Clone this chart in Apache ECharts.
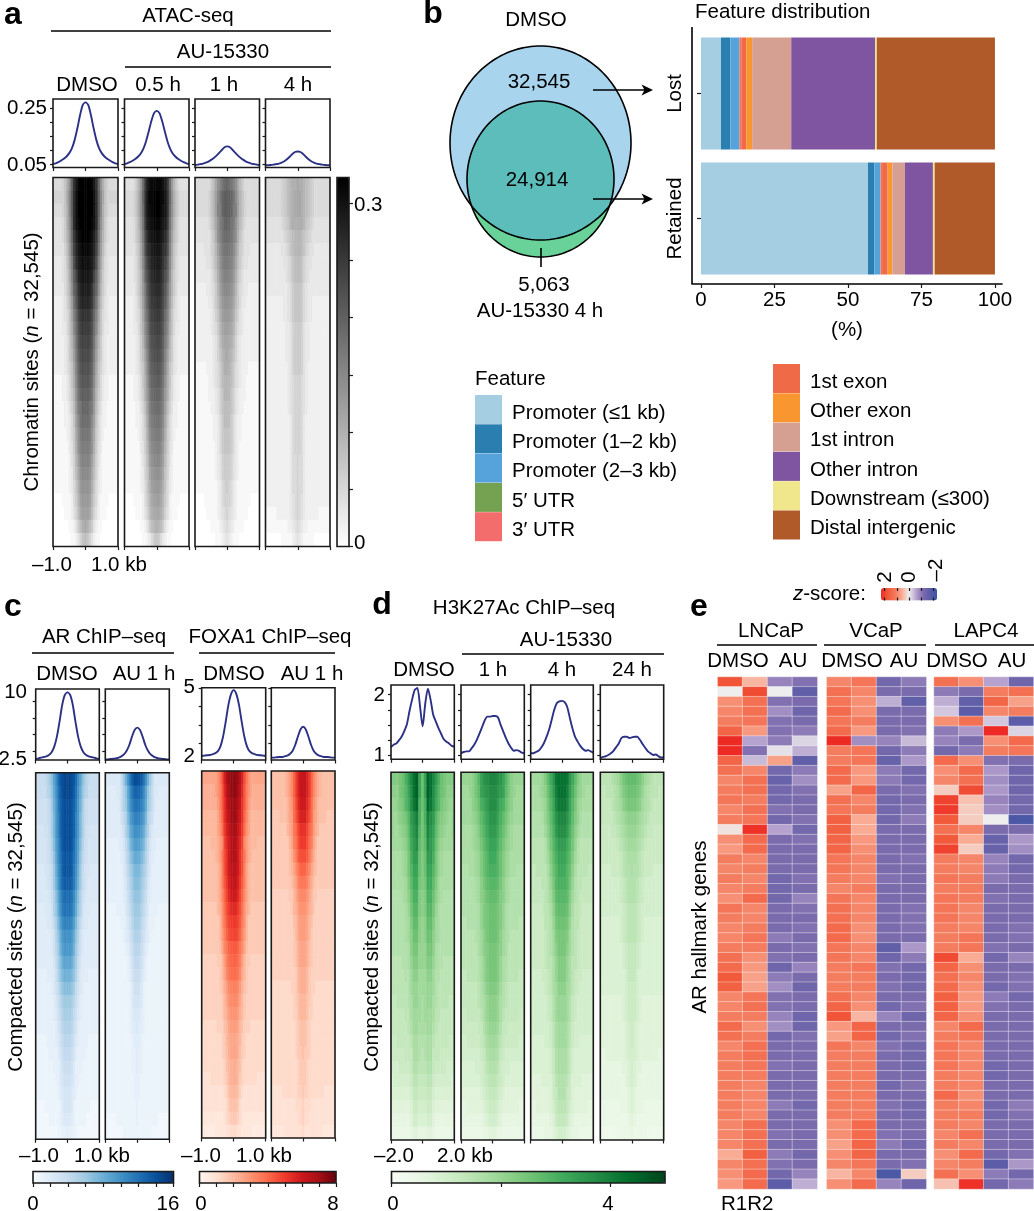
<!DOCTYPE html>
<html><head><meta charset="utf-8">
<style>html,body{margin:0;padding:0;background:#fff}#c{width:1034px;height:1211px}</style>
<script src="https://cdn.jsdelivr.net/npm/echarts@6/dist/echarts.min.js"></script>
</head><body><div id="c"></div>
<script>
/* ===== DATA ===== */
// Tornado heatmaps, top row first. Each row lists the centre cell, then the cells going outward
// (both flanks read alike; the far flank continues at the last level); a base-36 digit = level 0-35 of the panel's colour bar.
const atacDmso=["zzzywslfb865","zzzzxtmgc866","zzzzxtmgb865","zzzyxtlfb754","zzyxvrkea754","yyxwuqjd9644","xxwvtohc8543","wwvuqmgb7543","vvusolfa7533","uutrnjd96432","ssrplhc85432","rrqokgb85332","qqpnjea74322","ppomid974322","oonlhc864322","nnmkgb853221","mmljfa753221","lljie9642211","kkjgd8532211","jjifc7532111","iihfb7431111","hhgda6421111","ggfc96321111","ffeb85321111","eeda75211110","ddc964211100","cb9742110000","986421100000"];
const atac05h=["yyyxvrkea754","zzyywslfb865","zzyxwskfb865","yyxwvrjea754","xxwvtpid9754","wwvtsohc8644","vvusqmgb8543","uutrolfa7543","ttsqnjea7533","ssrpmid96432","rrqokhc85432","qqpnjgb85332","ppomifa74322","oonlhd974322","nnmkgc864322","mmljfb853221","llkieb753221","kkjhd9642211","jjigc8532211","iihfb7532111","hhgea7431111","ggfd96421111","ffec86321111","eedb85321111","ddca75211110","ccb964211100","ba9742110000","875321100000"];
const atac1h=["lkjhfc975555","mmljgda86555","mmlihda86555","lljifc975444","kkjhfb864444","jjigda764443","iihfc9754433","hhgeb8643333","ggfda7543322","ffec97533222","eedb86432222","ddca75432222","ccb964322222","cba864322222","bb9754322211","aa9754322111","aa8643222111","998643221111","997532211111","887532211111","887532111111","776432111111","776432111111","765321111111","665321111110","654321111100","543211110000","432111000000"];
const atac4h=["cbba98765555","ccba98765555","ccba98765555","bbba87654444","aa9876544444","aa9865443333","998654433333","998654333333","887543333333","887543322222","887543322222","776433222222","776433222222","776433222222","776432222222","665432222222","665432222222","665432222222","665322222222","665322222222","665322222222","655322222222","655322222222","655322222222","654322222222","654322222211","543221111111","432111110000"];
const arDmso=["wwvurnjfca98","wwvtqmieba88","vvusplhd9877","vvusolgc9877","vvusolgc9776","vvurnkfb8766","uutqnjea8766","uutpmid97665","ttsplhd97655","rrqnjfb86555","qqpmieb75554","oonkgc965544","mmlieb754444","llkhda754444","jjifc9644444","hhgeb8544433","ffec97543333","ddca86433333","ccb975433333","bba864333333","aa9754333322","998643333222","887533322222","776533222222","665432222222","665322222221","554322222111","433221111111"];
const arAu=["vvtqmhd95555","ssqnjeb85544","qqomidb85444","oomkgb974444","mmkieb754444","kkigc9644333","iigeb8543333","ggeca7533333","ffdb96433333","eeca85433333","ddb975333322","cca864332222","bb9754322222","aa8643222222","997532222222","886432222222","775322222222","665322222222","554322222222","544322222222","443222222222","433222222222","433222222222","332222222222","332222222222","322222222222","322222222211","222222211111"];
const foxDmso=["wwvtpkgdbbbb","wwusojfdbaaa","vvtrnjfcaaaa","vvsqnieb9999","uurpmhdb9999","ttqoleca9998","ttqnkgca9888","ssqnkfb98888","rrpmjfb98888","qqolieb98888","oomkhda97777","mmljgd977777","llkifc977777","jjigeb877777","iihfc9776666","hhgeb9766666","ffeca8766666","eedb97666666","ddca97666666","ccb986665555","bba976555555","bba876555555","aa9865555555","aa9765555554","998654444444","887544444444","776543333333","554433333222"];
const foxAu=["rrpmieca9888","rrpmieca9888","qqolhdb98888","ppnkhcb98887","nnligca97777","mmkhfb977777","kkjgda877777","iigeb9877777","ggfca8777777","eedb97766666","ddca97666666","ccb986666666","ccb976666666","bba876666666","bba876666666","aa9766666666","aa9766555555","998765555555","998665555555","887655555555","887655555555","877655555555","776555555555","776555555555","766555555544","655544444444","655444444444","544444444333"];
const h3Dmso=["inwurolihggg","inwuqnkihfff","ilvtqmkhgfee","hlsqokhgfede","hkrpnjgfedde","hjqomifedddd","gioolhedcccc","ginnkhedcccc","ghmmjgdccccc","fgllifdcbbbb","fgkkhecbbbbb","efjjgdcbbbbb","efiifdcbbbbb","eehhfcbbbbbb","eeggecbbaaaa","ddffdbbaaaaa","ddeedbaaaaaa","cdeecbaaaa99","cdddcaa99999","ccddba999999","bbcca9999988","abcc99988888","aabb98888777","99aa87777776","889976666666","778865555555","667754444444","445543333333"];
const h31h=["rrqpnkhfeeee","qqponjhfeddd","qqomligfdddd","ppnljhfedddd","oomkigedcccc","nnljhfedcccc","mmkigedccccc","llkigedccbbb","kkjhfdcbbbbb","jjigfdcbbbbb","iihgecbbbbbb","iihgecbbbbaa","iihfdcbaaaaa","hhgfdcaaaaaa","hhgecbaaaaaa","hhgecbaaaa99","ggfdba999999","ffecba999999","ffeca9999988","eedb99888888","ddca98888877","ccb987777777","bba877766666","aa9876666666","998765555555","887655555544","776544444444","554433333333"];
const h34h=["uutpmjgedddd","uusolifedccc","ttrnkhedcccc","rrpmjgecbbbb","qqolifdbbbbb","oomkhebaaaaa","nnljgdbaaaaa","mmkifcaaaa99","llkhebaa9999","kkjgdba99999","jjifcaa98888","iihebaa88888","hhgdba988888","hhfdba988888","ggecaa988888","ggeca9887777","ffdca9877777","eedb98777777","eedb98777777","ddca87777777","ddca87766666","ccb976666666","ccb976666666","bba866665555","bb9865555555","aa9765555544","998654444444","776544433333"];
const h324h=["jjihfdcbaaaa","iihgecbaaa99","hhgfdcba9999","ffedcba99999","eedcba998888","ddcba9888888","ccba98888888","cbba98887777","bba987777777","bba987777777","aa9877777777","aa9876666666","aa9876666666","998766666666","998766666666","997666666666","887666666666","887655555555","887655555555","876555555555","876555555555","776555555544","765544444444","765444444444","654444444444","654443333333","543333333333","433333222222"];

// Average profiles (read left to right)
const pAtacDmso=[.052,.055,.059,.065,.071,.079,.091,.109,.138,.179,.226,.262,.271,.262,.226,.179,.138,.109,.091,.079,.071,.065,.059,.055,.052];
const pAtac05h=[.052,.055,.059,.064,.070,.078,.089,.106,.132,.168,.205,.233,.241,.233,.205,.168,.132,.106,.089,.078,.070,.064,.059,.055,.052];
const pAtac1h=[.048,.050,.052,.054,.057,.061,.067,.074,.082,.092,.102,.112,.115,.112,.102,.092,.082,.074,.067,.061,.057,.054,.052,.050,.048];
const pAtac4h=[.048,.048,.049,.050,.052,.054,.057,.062,.069,.078,.088,.095,.097,.095,.088,.078,.069,.062,.057,.054,.052,.050,.049,.048,.048];
const pArDmso=[1.28,1.38,1.49,1.59,1.69,1.89,2.3,3.16,4.68,6.96,9.5,11.02,11.42,11.02,9.5,6.96,4.68,3.16,2.3,1.89,1.69,1.59,1.49,1.38,1.28];
const pArAu=[1.18,1.23,1.28,1.33,1.38,1.49,1.69,1.99,2.55,3.41,4.68,5.7,6.05,5.7,4.68,3.41,2.55,1.99,1.69,1.49,1.38,1.33,1.28,1.23,1.18];
const pFoxDmso=[1.31,1.33,1.35,1.36,1.4,1.45,1.56,1.82,2.36,3.18,4.09,4.69,4.91,4.69,4.09,3.18,2.36,1.82,1.56,1.45,1.4,1.36,1.35,1.33,1.31];
const pFoxAu=[1.22,1.22,1.24,1.25,1.25,1.29,1.33,1.42,1.58,1.91,2.36,2.76,2.91,2.76,2.36,1.91,1.58,1.42,1.33,1.29,1.25,1.25,1.24,1.22,1.22];
const pH3Dmso=[1.14,1.18,1.20,1.25,1.31,1.40,1.51,1.73,1.92,2.08,2.11,1.81,1.48,1.86,2.10,1.92,1.67,1.56,1.45,1.36,1.27,1.23,1.20,1.16,1.15];
const pH31h=[1.04,1.06,1.07,1.07,1.12,1.18,1.26,1.36,1.47,1.58,1.64,1.64,1.65,1.65,1.63,1.51,1.40,1.29,1.20,1.13,1.08,1.09,1.08,1.05,1.04];
const pH34h=[1.04,1.04,1.06,1.08,1.13,1.20,1.30,1.42,1.58,1.75,1.86,1.89,1.90,1.88,1.80,1.62,1.45,1.31,1.23,1.16,1.11,1.08,1.09,1.07,1.05];
const pH324h=[.96,.98,.99,1.01,1.04,1.08,1.14,1.20,1.29,1.31,1.31,1.29,1.30,1.31,1.31,1.26,1.19,1.13,1.07,1.04,1.01,1.02,.99,.97,.97];

// Feature distribution (%)
const barCategories=["Lost","Retained"];
const featureNames=["Promoter (≤1 kb)","Promoter (1–2 kb)","Promoter (2–3 kb)","5′ UTR","3′ UTR","1st exon","Other exon","1st intron","Other intron","Downstream (≤300)","Distal intergenic"];
const featureLost=[6.8,3.2,3.0,0.1,0.6,1.7,2.0,13.3,28.5,0.6,40.2];
const featureRetained=[56.8,2.2,2.0,0.1,0.5,1.9,1.6,4.3,9.5,0.6,20.5];
const featureColors=["#a6cee3","#2b7fb0","#56a3db","#74a250","#f46d6d","#ef6a47","#f9962f","#d5a092","#7f54a0","#f0e68c","#b05a2a"];

// Venn counts
const vennCounts=["32,545","24,914","5,063"];

// z-scores, rows of [DMSO R1, DMSO R2, AU R1, AU R2]
const zLNCaP=[[1.8,.5,-.9,-1.1],[0,1.9,0,-1.6],[.9,1.3,-1.1,-1.2],[1,1.3,-.8,-1.4],[1.1,1.2,-1.1,-1.2],[1.5,.8,-1.1,-1],[2.3,-.6,-1,-.2],[2.3,-1.1,-.1,-.5],[1.5,-.4,.7,-1.6],[1.3,1,-1.3,-1],[1,1.3,-1.5,-.8],[1.1,1.3,-1.3,-1.1],[1.2,1.1,-1.3,-1.2],[1,1.3,-1.1,-1.2],[1.1,1.2,-1.3,-1.1],[.1,2.2,-.6,-1.3],[.9,1.4,-1.2,-1.1],[.8,1.4,-1.2,-1.2],[1.1,1,-1.2,-1.2],[1,1.1,-1.2,-1.2],[1.1,1,-1.3,-1.1],[1,1.1,-1.3,-1.2],[.9,1.4,-1.3,-.9],[1.2,1,-1.2,-1.1],[1.1,1,-1.2,-1.2],[1,1.1,-1.2,-1.1],[1,1.2,-1,-1.2],[1.1,1.1,-1.2,-1.1],[1.3,.9,-1.1,-1.2],[1.4,.8,-1.4,-.9],[1.7,.7,-1,-1.2],[1.6,.7,-.8,-1.4],[1,1.2,-1.1,-1.2],[1,1.3,-1.1,-1.2],[1.1,1.1,-.9,-1.4],[1.4,.9,-.8,-1.4],[1.3,1.1,-1.3,-1.1],[1,1.3,-1.2,-1.2],[1.1,1.3,-1.2,-1.2],[1.1,1.2,-1.1,-1.2],[1.1,1.1,-1.2,-1.2],[1.1,1,-1.2,-1.2],[1.1,1,-1.2,-1.2],[1.1,1,-1,-1.3],[1.1,1,-1.2,-1.2],[1,1.3,-1.2,-1.2],[1,1.3,-1.1,-1.2],[1,1.3,-1.2,-1.2],[.6,1.6,-1,-1.3],[1,1.3,-1.1,-1.2],[.9,1.4,-1.3,-.9],[.8,1.4,-1.7,-.5]];
const zVCaP=[[1,1.2,-1.3,-1],[1.3,1,-1.2,-1.2],[1.2,.9,-.5,-1.6],[1.4,.9,-1.2,-1.2],[1.2,1.1,-1.2,-1.2],[1.4,.8,-1.2,-1.1],[2.3,-.8,-.9,-.4],[1.1,1.2,-1.3,-1],[1.1,1.2,-1.5,-.7],[1.4,.8,-1,-1.3],[1.4,.8,-1,-1.3],[.7,1.5,-1.2,-1.1],[1.3,1,-1.3,-1.2],[1.2,1.1,-1.3,-1.1],[1.6,.6,-1.3,-1],[1.6,.6,-1.2,-1.2],[1.5,.8,-1.2,-1.2],[1.5,.9,-1.2,-1.2],[1.2,1,-1.2,-1.1],[1.2,1,-1.2,-1.2],[1.1,1,-1.1,-1.2],[1,1.1,-1.2,-1.2],[1.2,1,-1.2,-1.2],[1.3,1,-1.2,-1.1],[1.3,1,-1.2,-1.1],[1.4,.9,-1.2,-1.1],[1.4,.9,-1.2,-1.2],[1.2,1,-1.6,-.7],[1.2,1,-1.4,-1],[1.1,1.2,-1.1,-1.3],[1.1,1.1,-1.2,-1.3],[1.1,1.1,-1.1,-1.3],[1.3,1,-1.2,-1.2],[1.5,.9,-1.3,-1.1],[1.8,.5,-.9,-1.4],[.8,1.5,-1.2,-1.2],[.7,1.5,-1.3,-1.1],[1.2,1,-1.1,-1.3],[1.1,1.1,-1.2,-1.3],[1.1,1.1,-1.2,-1.3],[1.1,1.1,-1.2,-1.2],[1.1,1.1,-1.3,-1.1],[1.1,1.1,-1.2,-1.2],[1.1,1.1,-1.1,-1.3],[1.1,1.1,-1.2,-1.3],[.9,1.4,-1.2,-1.2],[.9,1.4,-1.1,-1.2],[.7,1.5,-1,-1.3],[.9,1.5,-1.2,-1.2],[1,1.2,-1.2,-1.1],[.5,1,-2,.3],[.9,1.4,-.9,-1.4]];
const zLAPC4=[[1.3,.9,-.6,-1.4],[-1,-1.2,1.1,1.3],[-.5,-1.6,1.5,.7],[-.3,-1.7,1,1.1],[.9,1.3,-.3,-1.7],[-1,-.7,2.3,-.2],[-.9,-1.2,.9,1.4],[-1.3,-1,1.1,1.2],[1.4,.9,-1.1,-1.2],[.9,1.4,-.7,-1.4],[1,1.3,-.8,-1.4],[.3,1.9,-.7,-1.4],[2,.4,-.9,-1.3],[2.1,.3,-.8,-1.3],[1.7,.3,0,-2],[1.3,1,-1.2,-1.2],[1.7,.6,-1.5,-.7],[2,.3,-1.5,-.8],[1.1,1,-.9,-1.3],[1.1,1,-1,-1.3],[1.2,1.1,-1,-1.2],[1.1,1.1,-1.2,-1.2],[1.2,1.1,-1.1,-1.2],[1.2,1,-1.2,-1.2],[1.2,1,-1.2,-1.2],[1.1,1,-1.2,-1.1],[1.1,1.2,-1.2,-1.1],[1.1,1.2,-1.1,-1.2],[1.9,.6,-1.3,-.9],[1.5,.9,-1.2,-1.2],[1.3,1,-1.2,-1.1],[1.4,.9,-1.3,-1.1],[1.6,.8,-1,-1.3],[1.6,.8,-1.1,-1.2],[1.5,.9,-1.2,-1.2],[1,1.4,-1.2,-1.2],[1.1,1.2,-1.2,-1.2],[1.2,1,-1.2,-1.2],[1.2,1,-1.2,-1.2],[1.2,1,-1.3,-1.2],[1.1,1,-1.3,-1.2],[1.1,1,-1.2,-1.2],[1.4,.9,-1.2,-1.2],[1.1,1,-1.3,-1],[1.1,1.1,-1.3,-1.1],[1.1,1,-1.2,-1.2],[1,1.3,-1.2,-1.2],[1.1,1,-1.2,-1.2],[.9,1.4,-1.3,-1.1],[1,1.1,-1.7,-.7],[1.3,.9,-1,-1.3],[.4,2.2,-1.3,-1]];
const zColumns=["DMSO R1","DMSO R2","AU R1","AU R2"];

// Axis ticks
const ticksAtac=[.05,.1,.15,.2,.25];
const ticksAr=[2.5,5,7.5,10];
const ticksFox=[2,3,4,5];
const ticksH3=[1,1.25,1.5,1.75,2];
const ticksGray=[0,.05,.1,.15,.2,.25,.3];
const ticksBlue=[0,2,4,6,8,10,12,14,16];
const ticksRed=[0,1,2,3,4,5,6,7,8];
const ticksGreen=[0,2,4];
const ticksZ=[-2,-1,0,1,2];
const ticksPct=[0,25,50,75,100];

/* ===== STYLE & LAYOUT ===== */
const FONT='"Liberation Sans",Arial,sans-serif', FS=20.5, INK='#1a1a1a', NAVY='#2c3185';
const gray=['#ffffff','#000000'];
const blues=['#f7fbff','#deebf7','#c6dbef','#9ecae1','#6baed6','#4292c6','#2171b5','#08519c','#08306b'];
const reds=['#fff5f0','#fee0d2','#fcbba1','#fc9272','#fb6a4a','#ef3b2c','#cb181d','#a50f15','#67000d'];
const greens=['#f7fcf5','#e5f5e0','#c7e9c0','#a1d99b','#74c476','#41ab5d','#238b45','#006d2c','#00441b'];
const zcolors=['#3b54a4','#5a5ba8','#7d6cae','#b8a4cf','#eeeeee','#f9ad96','#f4785a','#f15a3a','#ee2a24'];

const grid=[],xAxis=[],yAxis=[],series=[],graphic=[],groups={gray:[],blue:[],red:[],green:[],z:[]};
function T(x,y,text,o={}){graphic.push({type:'text',x,y,z:100,rotation:o.rot||0,style:{text,fill:'#000',font:`${o.weight||'normal'} ${o.size||FS}px ${FONT}`,textAlign:o.align||'center',textVerticalAlign:'middle',rich:o.rich}});}
function L(x1,y1,x2,y2,w=1.6){graphic.push({type:'line',z:100,shape:{x1,y1,x2,y2},style:{stroke:'#000',lineWidth:w}});}
function F(x0,y0,x1,y1){graphic.push({type:'rect',z:100,shape:{x:x0,y:y0,width:x1-x0,height:y1-y0},style:{fill:'none',stroke:INK,lineWidth:1.6}});}
function G(x0,y0,x1,y1){grid.push({left:x0,top:y0,width:x1-x0,height:y1-y0,containLabel:false});return grid.length-1;}
const tick=(len=3.5)=>({show:true,length:len,lineStyle:{color:INK,width:1.2}});
function xTicks(gi,min,max,vals,o={}){xAxis.push({type:'value',gridIndex:gi,position:o.pos||'bottom',min,max,inverse:!!o.inverse,z:o.z||0,axisLine:{show:false,onZero:false},splitLine:{show:false},axisLabel:{show:false},axisTick:Object.assign(tick(o.len||3.5),{customValues:vals,inside:!!o.inside})});return xAxis.length-1;}
function yTicks(gi,min,max,vals,o={}){yAxis.push({type:'value',gridIndex:gi,position:o.pos||'left',min,max,axisLine:{show:false,onZero:false},splitLine:{show:false},axisLabel:{show:false},axisTick:Object.assign(tick(o.len||3),{customValues:vals})});return yAxis.length-1;}
function decode(rows,vmax,half){const out=[];rows.forEach((r,ri)=>{const h=r.split('').map(ch=>parseInt(ch,36));while(h.length<half)h.push(h[h.length-1]);const s=h.slice(1).reverse().concat(h);s.forEach((lv,c)=>out.push([c,ri,lv/35*vmax]));});return out;}
const range=n=>Array.from({length:n},(_,i)=>String(i));

function heat(rows,box,group,vmax,span,half=12){
  const [x0,y0,x1,y1]=box,gi=G(x0,y0,x1,y1);
  const n=half*2-1;
  xAxis.push({type:'category',gridIndex:gi,data:range(n),show:false});const xi=xAxis.length-1;
  yAxis.push({type:'category',gridIndex:gi,data:range(rows.length),inverse:true,show:false});const yi=yAxis.length-1;
  xTicks(gi,-span,span,[-span,0,span]);
  groups[group].push(series.length);
  series.push({type:'heatmap',xAxisIndex:xi,yAxisIndex:yi,data:decode(rows,vmax,half),progressive:0,emphasis:{disabled:true},itemStyle:{borderWidth:0}});
  F(x0,y0,x1,y1);
}
function profile(vals,box,ymin,ymax,ticks,span){
  const [x0,y0,x1,y1]=box,gi=G(x0,y0,x1,y1);
  xTicks(gi,-span,span,[-span,0,span]);const xi=xAxis.length-1;
  yTicks(gi,ymin,ymax,ticks);const yi=yAxis.length-1;
  series.push({type:'line',xAxisIndex:xi,yAxisIndex:yi,showSymbol:false,smooth:.25,silent:true,lineStyle:{color:NAVY,width:1.9},
    data:vals.map((v,i)=>[-span+2*span*i/(vals.length-1),v])});
  F(x0,y0,x1,y1);
}
function colorbar(group,colors,min,max,x0,y0,x1,y1,orient,extra={}){
  const horiz=orient==='horizontal';
  return Object.assign({type:'continuous',seriesIndex:groups[group],dimension:2,min,max,orient,left:x0,top:y0,padding:0,
    itemWidth:horiz?(y1-y0):(x1-x0),itemHeight:horiz?(x1-x0):(y1-y0),calculable:false,hoverLink:false,realtime:false,
    inRange:{color:colors},textStyle:{fontSize:0}},extra);
}

/* ---- Panel a ---- */
const aX=[[53,118],[124.5,189],[195,259.5],[265.5,330]];
[pAtacDmso,pAtac05h,pAtac1h,pAtac4h].forEach((p,i)=>profile(p,[aX[i][0],99,aX[i][1],167.5],.04,.283,ticksAtac,1));
[atacDmso,atac05h,atac1h,atac4h].forEach((m,i)=>heat(m,[aX[i][0],177.5,aX[i][1],546.5],'gray',.3225,1,15));
{const g=G(337,177.5,349,546.5);xAxis.push({type:'value',gridIndex:g,min:0,max:1,show:false});yTicks(g,0,.3225,ticksGray,{pos:'right',len:4});F(337,177.5,349,546.5);}
T(188,16,'ATAC-seq');L(51,31,331,31);T(223,52,'AU-15330');L(125,67,331,67);
T(87,85,'DMSO');T(158,85,'0.5 h');T(224,85,'1 h');T(298,85,'4 h');
T(47,108,'0.25',{align:'right'});T(47,165,'0.05',{align:'right'});
const RI={i:{fontStyle:'italic',font:`italic ${FS}px ${FONT}`,fill:'#000'}};
T(32,362,'Chromatin sites ({i|n} = 32,545)',{rot:Math.PI/2,rich:RI});
T(354,205,'0.3',{align:'left'});T(354,543,'0',{align:'left'});
T(52,565,'–1.0');T(91,565,'1.0 kb',{align:'left'});
T(13,15,'a',{weight:'bold',size:32});

/* ---- Panel c ---- */
profile(pArDmso,[35.7,689,99.3,760],1.13,11.93,ticksAr,1);profile(pArAu,[105.3,689,169.3,760],1.13,11.93,ticksAr,1);
profile(pFoxDmso,[201.7,687.7,265.7,760],1.09,5.04,ticksFox,1);profile(pFoxAu,[271.3,687.7,335,760],1.09,5.04,ticksFox,1);
heat(arDmso,[35.7,772.7,99.3,1139.3],'blue',16,1,15);heat(arAu,[105.3,772.7,169.3,1139.3],'blue',16,1,15);
heat(foxDmso,[201.7,771,265.7,1138],'red',8,1,15);heat(foxAu,[271.3,771,335,1138],'red',8,1,15);
T(104,637,'AR ChIP–seq');L(32,653,174,653);T(270,637,'FOXA1 ChIP–seq');L(199,653,335,653);
T(67,674,'DMSO');T(144,674,'AU 1 h');T(234,674,'DMSO');T(312,674,'AU 1 h');
T(27,692,'10',{align:'right'});T(27,759,'2.5',{align:'right'});T(195,687,'5',{align:'right'});T(195,756,'2',{align:'right'});
T(16,937,'Compacted sites ({i|n} = 32,545)',{rot:Math.PI/2,rich:RI});
T(39,1156,'–1.0');T(74,1156,'1.0 kb',{align:'left'});T(201,1156,'–1.0');T(236,1156,'1.0 kb',{align:'left'});
T(33,1204,'0');T(168,1204,'16');T(201,1204,'0');T(333,1204,'8');
T(13,607,'c',{weight:'bold',size:32});
{const g=G(33,1171.5,173.5,1183);yAxis.push({type:'value',gridIndex:g,min:0,max:1,show:false});xTicks(g,0,16,ticksBlue,{len:4});F(33,1171.5,173.5,1183);}
{const g=G(199.5,1171.5,336,1183);yAxis.push({type:'value',gridIndex:g,min:0,max:1,show:false});xTicks(g,0,8,ticksRed,{len:4});F(199.5,1171.5,336,1183);}

/* ---- Panel d ---- */
const dX=[[391,454.3],[461,524.3],[530.7,593.3],[600.3,663.7]];
[pH3Dmso,pH31h,pH34h,pH324h].forEach((p,i)=>profile(p,[dX[i][0],685,dX[i][1],759.3],.94,2.16,ticksH3,2));
[h3Dmso,h31h,h34h,h324h].forEach((m,i)=>heat(m,[dX[i][0],772.3,dX[i][1],1140],'green',5,2));
T(524,608,'H3K27Ac ChIP–seq');T(566,640,'AU-15330');L(462,654,664,654);
T(424,670,'DMSO');T(493,670,'1 h');T(562,670,'4 h');T(632,670,'24 h');
T(385,695,'2',{align:'right'});T(385,755,'1',{align:'right'});
T(372,937,'Compacted sites ({i|n} = 32,545)',{rot:Math.PI/2,rich:RI});
T(394,1156,'–2.0');T(437,1156,'2.0 kb',{align:'left'});T(393,1204,'0');T(608,1204,'4');
T(382,605,'d',{weight:'bold',size:32});
{const g=G(391.5,1171.5,665,1183);yAxis.push({type:'value',gridIndex:g,min:0,max:1,show:false});xTicks(g,0,5,ticksGreen,{len:4});F(391.5,1171.5,665,1183);}

/* ---- Panel e ---- */
function zHeat(m,x0,x1){
  const gi=G(x0,677,x1,1189);
  xAxis.push({type:'category',gridIndex:gi,data:zColumns,show:false});
  yAxis.push({type:'category',gridIndex:gi,data:m.map((_,i)=>String(i+1)),inverse:true,show:false});
  const d=[];m.forEach((r,ri)=>r.forEach((v,c)=>d.push([c,ri,v])));
  groups.z.push(series.length);
  series.push({type:'heatmap',xAxisIndex:xAxis.length-1,yAxisIndex:yAxis.length-1,data:d,progressive:0,emphasis:{disabled:true},itemStyle:{borderColor:'rgba(255,255,255,.55)',borderWidth:.7}});
}
zHeat(zLNCaP,717.7,817.3);zHeat(zVCaP,826.7,926.3);zHeat(zLAPC4,934,1033.5);
T(793,594,'{i|z}-score:',{align:'left',rich:RI});
T(885,577,'2',{rot:Math.PI/2});T(909,577,'0',{rot:Math.PI/2});T(936,570,'–2',{rot:Math.PI/2});
T(771,631,'LNCaP');L(717,645,817,645);T(876,631,'VCaP');L(824,645,926,645);T(986,631,'LAPC4');L(935,645,1034,645);
T(738,661,'DMSO');T(793,661,'AU');T(852,661,'DMSO');T(904,661,'AU');T(957,661,'DMSO');T(1012,661,'AU');
T(700,927,'AR hallmark genes',{rot:Math.PI/2});T(721,1204,'R1R2',{align:'left'});
T(699,607,'e',{weight:'bold',size:32});
{const g=G(881,588,937,600.5);yAxis.push({type:'value',gridIndex:g,min:0,max:1,show:false});
 xTicks(g,-2.3,2.3,ticksZ,{inside:true,len:3,inverse:true,z:20});xTicks(g,-2.3,2.3,ticksZ,{inside:true,len:3,pos:'top',inverse:true,z:20});}

/* ---- Panel b: stacked bars ---- */
{const g=G(692,31,1002,281);
 xAxis.push({type:'value',gridIndex:g,min:-3.06,max:102.4,offset:3,axisLine:{show:true,onZero:false,lineStyle:{color:'#000',width:1.6}},splitLine:{show:false},
   axisTick:Object.assign(tick(4),{customValues:ticksPct}),axisLabel:{customValues:ticksPct,color:'#000',fontFamily:FONT,fontSize:FS,margin:6}});
 yAxis.push({type:'category',gridIndex:g,data:barCategories,inverse:true,axisLine:{show:false},axisTick:Object.assign(tick(4),{alignWithLabel:true}),
   axisLabel:{rotate:90,color:'#000',fontFamily:FONT,fontSize:FS,margin:6,align:'center'}});
 const xi=xAxis.length-1,yi=yAxis.length-1;
 featureNames.forEach((name,i)=>series.push({type:'bar',name,stack:'f',xAxisIndex:xi,yAxisIndex:yi,barWidth:112,silent:true,
   itemStyle:{color:featureColors[i]},data:[featureLost[i],featureRetained[i]]}));
 L(692,27,692,284);
}
T(695,12,'Feature distribution',{align:'left'});T(847,330,'(%)');
T(433,14,'b',{weight:'bold',size:32});

/* Venn, drawn through a full-page pixel scale */
const VENN={dmso:[540.5,143,90.5,97],au:[540.5,179,73.5,78]};
{const g=G(0,0,1034,1211);
 xAxis.push({type:'value',gridIndex:g,min:0,max:1034,show:false});yAxis.push({type:'value',gridIndex:g,min:0,max:1211,inverse:true,show:false});
 series.push({type:'custom',xAxisIndex:xAxis.length-1,yAxisIndex:yAxis.length-1,silent:true,clip:false,data:[[0,0]],
  renderItem(p,api){
   const ell=([cx,cy,rx,ry])=>{const a=[];for(let i=0;i<180;i++){const t=i/180*2*Math.PI;a.push(api.coord([cx+rx*Math.cos(t),cy+ry*Math.sin(t)]));}return a;};
   const [bx,by,brx,bry]=VENN.dmso;
   const lens=ell(VENN.au).map(pt=>{const dx=(pt[0]-bx)/brx,dy=(pt[1]-by)/bry,d=Math.hypot(dx,dy);return d>1?[bx+dx/d*brx,by+dy/d*bry]:pt;});
   const S=(pts,fill,stroke)=>({type:'polygon',shape:{points:pts},style:{fill:fill||'none',stroke:stroke||'none',lineWidth:1.6}});
   return {type:'group',children:[S(ell(VENN.dmso),'#a8d4ee'),S(ell(VENN.au),'#69d298'),S(lens,'#5cbdbb'),S(ell(VENN.dmso),null,'#000'),S(ell(VENN.au),null,'#000')]};
  }});
}
T(536,20,'DMSO');T(539,82,vennCounts[0]);T(537,180,vennCounts[1]);T(544,285,vennCounts[2]);T(540,311,'AU-15330 4 h');
L(541,248,541,267);
[90,199].forEach(y=>{L(593,y,646,y);graphic.push({type:'polygon',z:100,shape:{points:[[653,y],[641.5,y-5.5],[644.5,y],[641.5,y+5.5]]},style:{fill:'#000'}});});
T(475,379,'Feature',{align:'left'});

const visualMap=[
 colorbar('gray',gray,0,.3225,337,177.5,349,546.5,'vertical'),
 colorbar('blue',blues,0,16,33,1171.5,173.5,1183,'horizontal'),
 colorbar('red',reds,0,8,199.5,1171.5,336,1183,'horizontal'),
 colorbar('green',greens,0,5,391.5,1171.5,665,1183,'horizontal'),
 colorbar('z',zcolors,-2.3,2.3,881,588,937,600.5,'horizontal',{inverse:true})
];
const legendBase={orient:'vertical',padding:0,itemWidth:27,itemHeight:29,itemGap:.3,icon:'rect',selectedMode:false,
  formatter:n=>`{a|${n}}`,
  textStyle:{color:'#000',fontFamily:FONT,fontSize:FS,rich:{a:{color:'#000',fontFamily:FONT,fontSize:FS,padding:[7,0,0,5]}}}};
const legend=[Object.assign({},legendBase,{left:475,top:395,data:featureNames.slice(0,5)}),Object.assign({},legendBase,{left:773,top:364,data:featureNames.slice(5)})];

echarts.init(document.getElementById('c'),null,{renderer:'canvas'}).setOption({animation:false,backgroundColor:'#fff',grid,xAxis,yAxis,series,visualMap,legend,graphic:{elements:graphic},tooltip:{show:false}});
</script></body></html>
